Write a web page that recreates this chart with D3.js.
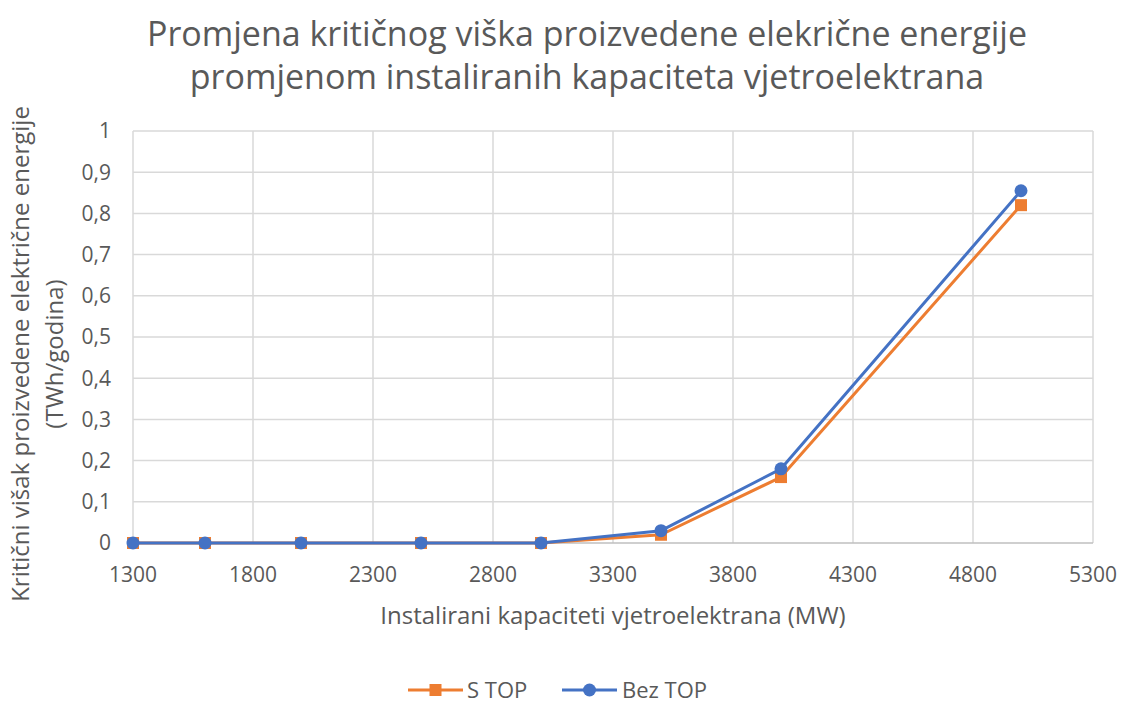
<!DOCTYPE html>
<html><head><meta charset="utf-8">
<script src="https://cdn.jsdelivr.net/npm/d3@7"></script>
<style>body{margin:0;background:#fff;} text{font-family:"Open Sans",sans-serif;}</style>
</head><body>
<svg id="c" width="1123" height="704"></svg>
<script>
const capacities = [1300, 1600, 2000, 2500, 3000, 3500, 4000, 5000];
const sTop = [0, 0, 0, 0, 0, 0.02, 0.16, 0.82];
const bezTop = [0, 0, 0, 0, 0, 0.03, 0.18, 0.855];
const xTicks = [1300, 1800, 2300, 2800, 3300, 3800, 4300, 4800, 5300];
const yTicks = [0, 0.1, 0.2, 0.3, 0.4, 0.5, 0.6, 0.7, 0.8, 0.9, 1];
const seriesNames = ["S TOP", "Bez TOP"];
const colors = ["#ED7D31", "#4472C4"];

const svg = d3.select("#c");
const x = d3.scaleLinear().domain([1300, 5300]).range([133, 1093]);
const y = d3.scaleLinear().domain([0, 1]).range([543, 131]);
const loc = d3.formatLocale({decimal: ",", thousands: ".", grouping: [3], currency: ["", ""]});
const yf = d => d === 0 ? "0" : (d === 1 ? "1" : loc.format(",.1f")(d));
const txt = "#595959";

// grid
svg.append("g").selectAll("line").data(yTicks.filter(d => d > 0)).join("line")
  .attr("x1", x(1300)).attr("x2", x(5300)).attr("y1", d => y(d)).attr("y2", d => y(d))
  .attr("stroke", "#d9d9d9").attr("stroke-width", 1.5);
svg.append("g").selectAll("line").data(xTicks).join("line")
  .attr("y1", y(0)).attr("y2", y(1)).attr("x1", d => x(d)).attr("x2", d => x(d))
  .attr("stroke", "#d9d9d9").attr("stroke-width", 1.5);
svg.append("line").attr("x1", x(1300)).attr("x2", x(5300)).attr("y1", y(0)).attr("y2", y(0))
  .attr("stroke", "#bfbfbf").attr("stroke-width", 1.5);

// tick labels
svg.append("g").selectAll("text").data(yTicks).join("text")
  .attr("x", 111).attr("y", d => y(d)).attr("dy", "0.35em").attr("text-anchor", "end")
  .attr("fill", txt).attr("font-size", 21).text(yf);
svg.append("g").selectAll("text").data(xTicks).join("text")
  .attr("x", d => x(d)).attr("y", 582).attr("text-anchor", "middle")
  .attr("fill", txt).attr("font-size", 21).text(d => d);

// titles
const title = svg.append("text").attr("text-anchor", "middle").attr("fill", txt).attr("font-size", 34);
title.append("tspan").attr("x", 587).attr("y", 46).text("Promjena kritičnog viška proizvedene elekrične energije");
title.append("tspan").attr("x", 587).attr("y", 89).text("promjenom instaliranih kapaciteta vjetroelektrana");

svg.append("text").attr("x", 613).attr("y", 624).attr("text-anchor", "middle").attr("fill", txt)
  .attr("font-size", 24).text("Instalirani kapaciteti vjetroelektrana (MW)");

const yt = svg.append("text").attr("transform", "translate(0,354) rotate(-90)").attr("text-anchor", "middle")
  .attr("fill", txt).attr("font-size", 24);
yt.append("tspan").attr("x", 0).attr("y", 29).text("Kritični višak proizvedene električne energije");
yt.append("tspan").attr("x", 0).attr("y", 63).text("(TWh/godina)");

// series
const data = [sTop, bezTop];
const line = d3.line().x((d, i) => x(capacities[i])).y(d => y(d));
data.forEach((vals, si) => {
  const g = svg.append("g");
  g.append("path").datum(vals).attr("d", line).attr("fill", "none")
    .attr("stroke", colors[si]).attr("stroke-width", 3).attr("stroke-linejoin", "round");
  if (si === 0) {
    g.selectAll("rect").data(vals).join("rect")
      .attr("x", (d, i) => x(capacities[i]) - 6).attr("y", d => y(d) - 6)
      .attr("width", 12).attr("height", 12).attr("fill", colors[si]);
  } else {
    g.selectAll("circle").data(vals).join("circle")
      .attr("cx", (d, i) => x(capacities[i])).attr("cy", d => y(d)).attr("r", 6.5).attr("fill", colors[si]);
  }
});

// legend
const leg = [{x0: 408, x1: 463, tx: 467}, {x0: 562, x1: 617, tx: 622}];
seriesNames.forEach((n, si) => {
  const L = leg[si], ly = 690;
  svg.append("line").attr("x1", L.x0).attr("x2", L.x1).attr("y1", ly).attr("y2", ly)
    .attr("stroke", colors[si]).attr("stroke-width", 3);
  const cx = (L.x0 + L.x1) / 2;
  if (si === 0) svg.append("rect").attr("x", cx - 6).attr("y", ly - 6).attr("width", 12).attr("height", 12).attr("fill", colors[si]);
  else svg.append("circle").attr("cx", cx).attr("cy", ly).attr("r", 6.5).attr("fill", colors[si]);
  svg.append("text").attr("x", L.tx).attr("y", ly + 8).attr("fill", txt)
    .attr("font-size", 22).text(n);
});
</script>
</body></html>
